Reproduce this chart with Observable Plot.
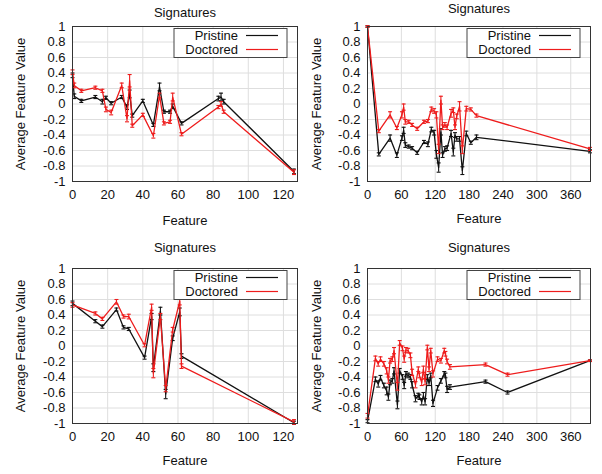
<!DOCTYPE html>
<html><head><meta charset="utf-8">
<script src="https://cdn.jsdelivr.net/npm/d3@7"></script>
<script src="https://cdn.jsdelivr.net/npm/@observablehq/plot@0.6"></script>
<style>
body{margin:0;background:#fff;}
#wrap{position:relative;width:602px;height:474px;overflow:hidden;font-family:"Liberation Sans",Arial,sans-serif;}
.panel{position:absolute;width:301px;height:237px;}
</style></head><body><div id="wrap"></div>
<script>
// ---------- data ----------
const seriesNames = ["Pristine", "Doctored"];
const yTicks = [1, 0.8, 0.6, 0.4, 0.2, 0, -0.2, -0.4, -0.6, -0.8, -1];
const xTicksSmall = [0, 20, 40, 60, 80, 100, 120];
const xTicksLarge = [0, 60, 120, 180, 240, 300, 360];

// Panel 1 (top-left)
const p1X = [0, 1, 5, 13, 17, 19, 22, 28, 31, 32.5, 34, 40, 46, 49.5, 52, 55.5, 57, 62, 83, 84.5, 86, 126];
const p1Pristine = [0.37, 0.1, 0.04, 0.09, 0.03, 0.08, 0.01, 0.09, -0.04, 0.13, -0.15, 0.04, -0.27, 0.22, -0.1, -0.1, -0.03, -0.25, 0.07, 0.09, 0.03, -0.87];
const p1PristineErr = [0.03, 0.03, 0.02, 0.02, 0.03, 0.02, 0.02, 0.02, 0.03, 0.05, 0.02, 0.02, 0.02, 0.05, 0.02, 0.02, 0.03, 0.02, 0.03, 0.05, 0.03, 0.03];
const p1Doctored = [0.41, 0.24, 0.17, 0.21, 0.17, -0.07, -0.11, 0.24, -0.19, 0.3, -0.28, -0.14, -0.41, 0.11, -0.25, -0.23, 0.09, -0.39, -0.04, 0.0, -0.1, -0.88];
const p1DoctoredErr = [0.03, 0.03, 0.02, 0.02, 0.02, 0.03, 0.03, 0.03, 0.04, 0.08, 0.02, 0.02, 0.03, 0.03, 0.02, 0.02, 0.05, 0.02, 0.02, 0.03, 0.02, 0.03];

// Panel 2 (top-right)
const p2X = [0, 20, 40, 52, 61, 64, 67, 73, 79, 88, 100, 107, 113, 118, 122, 126, 130, 133, 137, 141, 148, 152, 155, 158, 163, 168, 175, 183, 193, 394];
const p2Pristine = [1, -0.65, -0.44, -0.66, -0.44, -0.34, -0.53, -0.55, -0.57, -0.63, -0.49, -0.52, -0.33, -0.37, -0.65, -0.82, -0.36, -0.66, -0.58, -0.57, -0.38, -0.62, -0.4, -0.45, -0.45, -0.86, -0.38, -0.5, -0.43, -0.61];
const p2PristineErr = [0.01, 0.02, 0.04, 0.03, 0.03, 0.04, 0.03, 0.02, 0.02, 0.02, 0.02, 0.03, 0.03, 0.03, 0.05, 0.06, 0.04, 0.03, 0.03, 0.03, 0.04, 0.05, 0.03, 0.03, 0.03, 0.05, 0.03, 0.02, 0.03, 0.02];
const p2Doctored = [1, -0.35, -0.14, -0.31, -0.14, -0.04, -0.23, -0.23, -0.27, -0.32, -0.23, -0.22, -0.07, -0.09, -0.14, -0.58, 0.05, -0.3, -0.27, -0.3, -0.12, -0.08, -0.3, -0.16, -0.03, -0.59, -0.06, -0.07, -0.15, -0.58];
const p2DoctoredErr = [0.01, 0.02, 0.04, 0.02, 0.04, 0.04, 0.03, 0.02, 0.02, 0.02, 0.02, 0.02, 0.03, 0.03, 0.04, 0.06, 0.05, 0.03, 0.03, 0.03, 0.05, 0.03, 0.03, 0.03, 0.06, 0.05, 0.03, 0.02, 0.02, 0.02];

// Panel 3 (bottom-left)
const p3X = [0, 13, 17, 25, 29, 32, 41, 45, 46, 50, 53, 57, 61, 62, 126];
const p3Pristine = [0.55, 0.32, 0.25, 0.47, 0.24, 0.22, -0.15, 0.38, -0.28, 0.45, -0.62, 0.1, 0.44, -0.13, -0.99];
const p3PristineErr = [0.03, 0.02, 0.02, 0.02, 0.02, 0.02, 0.02, 0.04, 0.05, 0.05, 0.06, 0.03, 0.05, 0.03, 0.02];
const p3Doctored = [0.53, 0.42, 0.35, 0.57, 0.38, 0.38, 0.01, 0.5, -0.35, 0.38, -0.55, 0.21, 0.58, -0.26, -0.98];
const p3DoctoredErr = [0.03, 0.02, 0.02, 0.03, 0.02, 0.03, 0.02, 0.04, 0.06, 0.04, 0.04, 0.03, 0.05, 0.03, 0.03];

// Panel 4 (bottom-right)
const p4X = [0, 14, 19, 23, 29, 34, 37, 40, 44, 47, 53, 57, 62, 65, 68, 72, 76, 79, 85, 90, 92, 96, 99, 102, 106, 109, 112, 116, 124, 130, 136, 138, 141, 146, 209, 248, 394];
const p4Pristine = [-0.97, -0.43, -0.49, -0.41, -0.51, -0.58, -0.66, -0.47, -0.45, -0.32, -0.76, -0.32, -0.4, -0.51, -0.36, -0.38, -0.4, -0.5, -0.68, -0.64, -0.66, -0.72, -0.64, -0.72, -0.4, -0.48, -0.38, -0.74, -0.54, -0.45, -0.36, -0.38, -0.56, -0.53, -0.46, -0.6, -0.19];
const p4PristineErr = [0.02, 0.03, 0.04, 0.03, 0.03, 0.05, 0.04, 0.03, 0.03, 0.04, 0.05, 0.03, 0.03, 0.04, 0.03, 0.03, 0.03, 0.04, 0.04, 0.03, 0.03, 0.04, 0.04, 0.04, 0.03, 0.03, 0.03, 0.04, 0.03, 0.03, 0.03, 0.03, 0.04, 0.03, 0.02, 0.02, 0.01];
const p4Doctored = [-0.9, -0.16, -0.23, -0.17, -0.23, -0.32, -0.44, -0.19, -0.17, -0.06, -0.52, 0.04, -0.03, -0.17, -0.05, -0.06, -0.12, -0.34, -0.5, -0.3, -0.38, -0.47, -0.3, -0.46, -0.02, -0.3, -0.06, -0.36, -0.17, -0.19, -0.06, -0.1, -0.2, -0.27, -0.24, -0.37, -0.19];
const p4DoctoredErr = [0.03, 0.03, 0.03, 0.03, 0.03, 0.04, 0.04, 0.03, 0.03, 0.04, 0.05, 0.03, 0.03, 0.04, 0.03, 0.03, 0.03, 0.04, 0.04, 0.03, 0.03, 0.04, 0.04, 0.04, 0.03, 0.03, 0.03, 0.04, 0.03, 0.03, 0.03, 0.03, 0.03, 0.03, 0.02, 0.02, 0.01];

// ---------- styling ----------
const colors = {Pristine: "#111111", Doctored: "#ee1c1c"};
const FONT = "'Liberation Sans', Arial, sans-serif";

function rows(xs, ys, es, name) {
  return xs.map((x, i) => ({x, y: ys[i], e: es[i], series: name}));
}

const panels = [
  {left: 0, top: 0, xs: p1X, data: [[p1Pristine, p1PristineErr], [p1Doctored, p1DoctoredErr]], xDomain: [0, 128], xTicks: xTicksSmall,
   m: {top: 26, bottom: 56, left: 72, right: 4}, titleDy: -14, xLabDy: 39, yLabDx: -52},
  {left: 301, top: 0, xs: p2X, data: [[p2Pristine, p2PristineErr], [p2Doctored, p2DoctoredErr]], xDomain: [0, 395], xTicks: xTicksLarge,
   m: {top: 26, bottom: 56, left: 66, right: 12}, titleDy: -18, xLabDy: 37, yLabDx: -51},
  {left: 0, top: 237, xs: p3X, data: [[p3Pristine, p3PristineErr], [p3Doctored, p3DoctoredErr]], xDomain: [0, 128], xTicks: xTicksSmall,
   m: {top: 31, bottom: 51, left: 72, right: 4}, titleDy: -21, xLabDy: 37, yLabDx: -52},
  {left: 301, top: 237, xs: p4X, data: [[p4Pristine, p4PristineErr], [p4Doctored, p4DoctoredErr]], xDomain: [0, 395], xTicks: xTicksLarge,
   m: {top: 31, bottom: 51, left: 66, right: 12}, titleDy: -21, xLabDy: 37, yLabDx: -51}
];

const capSymbol = {
  draw(ctx, size) {
    const r = Math.sqrt(size / Math.PI);
    ctx.moveTo(-r, 0); ctx.lineTo(r, 0);
  }
};

const wrap = document.getElementById("wrap");

for (const p of panels) {
  const W = 301, H = 237;
  const marks = [
    Plot.ruleX(p.xTicks, {stroke: "#dedede", strokeWidth: 1}),
    Plot.ruleY(yTicks, {stroke: "#dedede", strokeWidth: 1}),
  ];
  seriesNames.forEach((name, k) => {
    const d = rows(p.xs, p.data[k][0], p.data[k][1], name);
    const c = colors[name];
    marks.push(
      Plot.line(d, {x: "x", y: "y", stroke: c, strokeWidth: 1.3}),
      Plot.ruleX(d, {x: "x", y1: r => r.y - r.e, y2: r => r.y + r.e, stroke: c, strokeWidth: 1.1}),
      Plot.dot(d, {x: "x", y: r => r.y + r.e, symbol: capSymbol, r: 2, stroke: c, fill: "none", strokeWidth: 1.1}),
      Plot.dot(d, {x: "x", y: r => r.y - r.e, symbol: capSymbol, r: 2, stroke: c, fill: "none", strokeWidth: 1.1})
    );
  });
  marks.push(
    Plot.frame({stroke: "#333", strokeWidth: 1}),
    Plot.text(["Signatures"], {text: d => d, frameAnchor: "top", lineAnchor: "middle", textAnchor: "middle", dy: p.titleDy, fontSize: 13, fill: "#111"}),
    Plot.text(["Feature"], {text: d => d, frameAnchor: "bottom", lineAnchor: "middle", textAnchor: "middle", dy: p.xLabDy, fontSize: 13, fill: "#111"}),
    Plot.text(["Average Feature Value"], {text: d => d, frameAnchor: "left", lineAnchor: "middle", textAnchor: "middle", dx: p.yLabDx, rotate: -90, fontSize: 13, fill: "#111"})
  );
  const svg = Plot.plot({
    width: W, height: H,
    marginTop: p.m.top, marginBottom: p.m.bottom, marginLeft: p.m.left, marginRight: p.m.right,
    style: {fontFamily: FONT, fontSize: "13px", color: "#111", background: "#fff", overflow: "visible"},
    x: {domain: p.xDomain, ticks: p.xTicks, tickSize: 0, tickPadding: 8, label: null, tickFormat: d => String(d)},
    y: {domain: [-1, 1], ticks: yTicks, tickSize: 0, tickPadding: 7, label: null, tickFormat: d => String(+d.toFixed(1))},
    marks
  });
  // legend box (drawn inside the plot frame, top-right)
  const frameRight = W - p.m.right;
  const bx = frameRight - 123, by = p.m.top + 2.5, bw = 113, bh = 29;
  const g = d3.select(svg).append("g").attr("font-family", FONT).attr("font-size", 13);
  g.append("rect").attr("x", bx).attr("y", by).attr("width", bw).attr("height", bh)
    .attr("fill", "#fff").attr("stroke", "#444").attr("stroke-width", 1);
  seriesNames.forEach((name, k) => {
    const cy = by + 7 + k * 14;
    g.append("text").attr("x", bx + 64).attr("y", cy).attr("dy", "0.35em")
      .attr("text-anchor", "end").attr("fill", "#111").text(name);
    g.append("line").attr("x1", bx + 72).attr("x2", bx + 104).attr("y1", cy).attr("y2", cy)
      .attr("stroke", colors[name]).attr("stroke-width", 1.2);
  });
  const div = document.createElement("div");
  div.className = "panel";
  div.style.left = p.left + "px";
  div.style.top = p.top + "px";
  div.appendChild(svg);
  wrap.appendChild(div);
}
</script>
</body></html>
